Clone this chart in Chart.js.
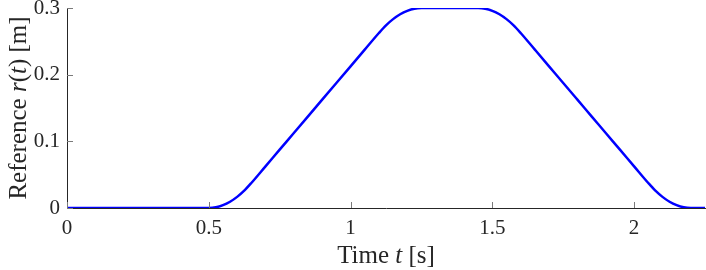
<!DOCTYPE html>
<html>
<head>
<meta charset="utf-8">
<script src="https://cdn.jsdelivr.net/npm/chart.js@4/dist/chart.umd.min.js"></script>
<style>
  html, body { margin: 0; padding: 0; background: #fff; }
  #wrap { width: 706px; height: 270px; }
</style>
</head>
<body>
<div id="wrap"><canvas id="grafico"></canvas></div>
<script>
// tiempo [s] y referencia r(t) [m]
const tiempo = [0, 0.1, 0.2, 0.3, 0.4, 0.5, 0.525, 0.55, 0.575, 0.6, 0.625, 0.65, 0.7, 0.75, 0.8, 0.85,
                0.9, 0.95, 1.0, 1.05, 1.1, 1.125, 1.15, 1.175, 1.2, 1.225, 1.25, 1.3, 1.35, 1.4,
                1.45, 1.475, 1.5, 1.525, 1.55, 1.575, 1.6, 1.65, 1.7, 1.75, 1.8, 1.85, 1.9, 1.95,
                2.0, 2.05, 2.075, 2.1, 2.125, 2.15, 2.175, 2.2, 2.25];
const referencia = [0, 0, 0, 0, 0, 0, 0.001, 0.0042, 0.0094, 0.0167, 0.026, 0.0375, 0.0625, 0.0875, 0.1125, 0.1375,
                    0.1625, 0.1875, 0.2125, 0.2375, 0.2625, 0.274, 0.2833, 0.2906, 0.2958, 0.299, 0.3, 0.3, 0.3, 0.3,
                    0.3, 0.299, 0.2958, 0.2906, 0.2833, 0.274, 0.2625, 0.2375, 0.2125, 0.1875, 0.1625, 0.1375, 0.1125, 0.0875,
                    0.0625, 0.0375, 0.026, 0.0167, 0.0094, 0.0042, 0.001, 0, 0];
const ticksX = [0, 0.5, 1, 1.5, 2];
const ticksY = [0, 0.1, 0.2, 0.3];

const colorEje = '#262626';
const fuente = "'Liberation Serif', 'Times New Roman', serif";

// marcas hacia dentro (estilo MATLAB) y titulos con partes en cursiva
const ejesPlugin = {
    id: 'ejes',
    afterDraw(chart) {
        const ctx = chart.ctx;
        const area = chart.chartArea;
        const sx = chart.scales.x;
        const sy = chart.scales.y;
        ctx.save();
        ctx.strokeStyle = '#7a7a7a';
        ctx.lineWidth = 1;
        ctx.beginPath();
        ticksX.forEach(function(v) {
            const px = Math.round(sx.getPixelForValue(v)) + 0.5;
            ctx.moveTo(px, area.bottom);
            ctx.lineTo(px, area.bottom - 6);
        });
        ticksY.forEach(function(v) {
            const py = Math.round(sy.getPixelForValue(v)) + 0.5;
            ctx.moveTo(area.left, py);
            ctx.lineTo(area.left + 6, py);
        });
        ctx.stroke();

        // titulos
        ctx.fillStyle = colorEje;
        ctx.textBaseline = 'middle';
        dibujarTexto(ctx, [['Time ', false], ['t', true], [' [s]', false]],
            (area.left + area.right) / 2, 256, 0);
        dibujarTexto(ctx, [['Reference ', false], ['r', true], ['(', false], ['t', true], [') [m]', false]],
            19, (area.top + area.bottom) / 2, -Math.PI / 2);
        ctx.restore();
    }
};

function dibujarTexto(ctx, partes, x, y, rot) {
    const size = 25;
    let total = 0;
    partes.forEach(function(p) {
        ctx.font = (p[1] ? 'italic ' : '') + size + 'px ' + fuente;
        total += ctx.measureText(p[0]).width;
    });
    ctx.save();
    ctx.translate(x, y);
    ctx.rotate(rot);
    let cx = -total / 2;
    ctx.textAlign = 'left';
    partes.forEach(function(p) {
        ctx.font = (p[1] ? 'italic ' : '') + size + 'px ' + fuente;
        ctx.fillText(p[0], cx, 0);
        cx += ctx.measureText(p[0]).width;
    });
    ctx.restore();
}

const ctxGrafico = document.getElementById('grafico').getContext('2d');
new Chart(ctxGrafico, {
    type: 'line',
    data: {
        datasets: [{
            label: 'r(t)',
            data: tiempo.map(function(t, i) { return { x: t, y: referencia[i] }; }),
            borderColor: '#0000ff',
            borderWidth: 2.5,
            pointRadius: 0,
            fill: false,
            cubicInterpolationMode: 'monotone'
        }]
    },
    options: {
        responsive: true,
        maintainAspectRatio: false,
        animation: false,
        layout: { padding: { top: 8, right: 1, left: 0, bottom: 0 } },
        plugins: { legend: { display: false }, tooltip: { enabled: false } },
        scales: {
            x: {
                type: 'linear',
                min: 0,
                max: 2.25,
                grid: { display: false, drawTicks: false },
                border: { display: true, color: colorEje, width: 1 },
                ticks: {
                    stepSize: 0.5,
                    includeBounds: false,
                    autoSkip: false,
                    maxRotation: 0,
                    padding: 8,
                    color: colorEje,
                    font: { family: fuente, size: 21 },
                    callback: function(v) { return String(v); }
                },
                afterFit(scale) { scale.height = 62; scale.paddingLeft = 0; scale.paddingRight = 0; }
            },
            y: {
                min: 0,
                max: 0.3,
                grid: { display: false, drawTicks: false },
                border: { display: true, color: colorEje, width: 1 },
                ticks: {
                    stepSize: 0.1,
                    padding: 7,
                    color: colorEje,
                    font: { family: fuente, size: 21 },
                    callback: function(v) { return String(Math.round(v * 10) / 10); }
                },
                afterFit(scale) { scale.width = 67; scale.paddingTop = 0; scale.paddingBottom = 0; }
            }
        }
    },
    plugins: [ejesPlugin]
});
</script>
</body>
</html>
